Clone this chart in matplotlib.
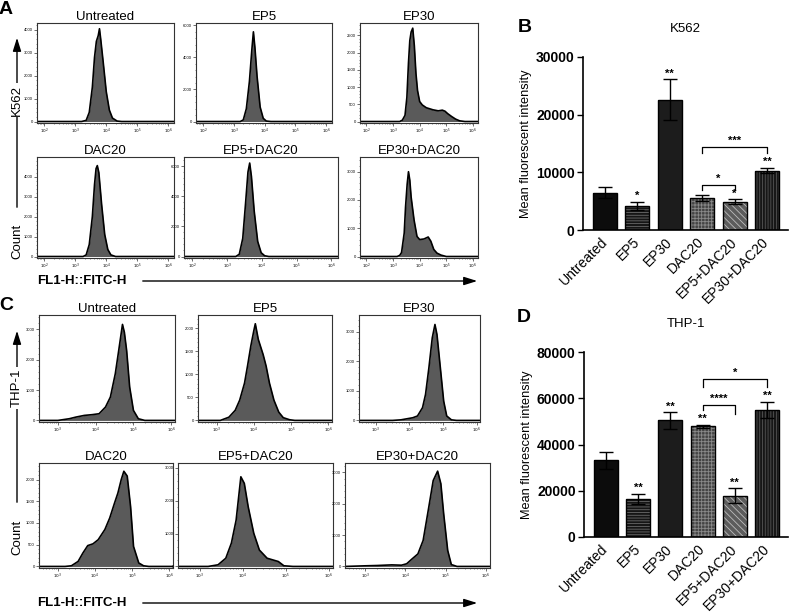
import numpy as np
import matplotlib.pyplot as plt
from matplotlib.ticker import MultipleLocator, FixedLocator

plt.rcParams['font.family'] = ['Liberation Sans', 'DejaVu Sans']
plt.rcParams['hatch.linewidth'] = 0.6

W, H = 790, 612
groups = ["Untreated", "EP5", "EP30", "DAC20", "EP5+DAC20", "EP30+DAC20"]

# flow histograms, x = log10(FITC), n = count
k562_untr_x = [1.76, 3.2, 3.35, 3.45, 3.55, 3.62, 3.68, 3.74, 3.78, 3.82, 3.9, 4.0, 4.1, 4.2, 4.35, 4.5, 6.19]
k562_untr_n = [0, 0, 50, 400, 1500, 2800, 3500, 3750, 4050, 3600, 2600, 1300, 500, 150, 20, 0, 0]
k562_ep5_x = [1.76, 3.2, 3.3, 3.4, 3.5, 3.58, 3.63, 3.68, 3.75, 3.85, 3.95, 4.05, 4.2, 6.19]
k562_ep5_n = [0, 0, 100, 800, 2500, 4500, 5600, 4600, 2800, 900, 200, 30, 0, 0]
k562_ep30_x = [1.76, 3.25, 3.35, 3.45, 3.52, 3.58, 3.63, 3.68, 3.74, 3.8, 3.86, 3.92, 4.0, 4.1, 4.25,
               4.5, 4.7, 4.85, 4.95, 5.05, 5.2, 5.35, 5.5, 5.7, 6.19]
k562_ep30_n = [0, 0, 40, 180, 700, 1700, 2350, 2600, 2710, 2200, 1400, 900, 580, 480, 400,
               340, 310, 330, 300, 230, 145, 70, 20, 0, 0]
k562_dac_x = [1.76, 3.25, 3.35, 3.45, 3.55, 3.62, 3.67, 3.71, 3.76, 3.85, 3.95, 4.05, 4.15, 4.3, 6.19]
k562_dac_n = [0, 0, 80, 600, 2000, 3600, 4400, 4550, 4200, 2600, 1100, 350, 80, 0, 0]
k562_ep5dac_x = [1.76, 3.25, 3.35, 3.45, 3.53, 3.6, 3.65, 3.7, 3.78, 3.88, 3.98, 4.08, 4.2, 6.19]
k562_ep5dac_n = [0, 0, 150, 1200, 3500, 5600, 6200, 5300, 3000, 1000, 250, 50, 0, 0]
k562_ep30dac_x = [1.76, 3.15, 3.25, 3.32, 3.42, 3.47, 3.53, 3.58, 3.63, 3.68, 3.79, 3.9, 4.0, 4.16,
                  4.32, 4.42, 4.53, 4.65, 4.8, 5.0, 6.19]
k562_ep30dac_n = [0, 0, 40, 140, 830, 1750, 2550, 3000, 2700, 2100, 1290, 710, 600, 620,
                  690, 540, 250, 120, 50, 0, 0]

thp1_untr_x = [2.5, 3.0, 3.3, 3.48, 3.7, 3.91, 4.09, 4.26, 4.39, 4.52, 4.61, 4.71, 4.76, 4.82, 4.9, 5.0, 5.13, 5.3, 6.1]
thp1_untr_n = [0, 0, 55, 110, 165, 190, 220, 440, 770, 1540, 2300, 3160, 2900, 2300, 1100, 330, 55, 0, 0]
thp1_ep5_x = [2.5, 3.1, 3.33, 3.5, 3.62, 3.75, 3.83, 3.92, 4.0, 4.04, 4.12, 4.25, 4.33, 4.42, 4.54,
              4.67, 4.79, 4.96, 5.1, 6.1]
thp1_ep5_n = [0, 0, 70, 220, 440, 810, 1180, 1620, 1950, 2100, 1760, 1430, 1180, 810, 440,
              180, 60, 15, 0, 0]
thp1_ep30_x = [2.5, 3.5, 3.75, 4.1, 4.24, 4.39, 4.48, 4.58, 4.68, 4.76, 4.82, 4.92, 5.02, 5.11, 5.25, 5.4, 6.1]
thp1_ep30_n = [0, 0, 20, 90, 150, 430, 880, 1780, 2790, 3240, 2900, 1780, 650, 150, 20, 0, 0]
thp1_dac_x = [2.5, 3.2, 3.37, 3.55, 3.68, 3.81, 3.95, 4.09, 4.27, 4.4, 4.53, 4.62, 4.71, 4.78, 4.87,
              4.96, 5.04, 5.18, 5.31, 5.45, 6.1]
thp1_dac_n = [0, 0, 15, 115, 310, 480, 520, 615, 850, 1115, 1460, 1690, 2000, 2190, 2080,
              1380, 460, 80, 15, 0, 0]
thp1_ep5dac_x = [2.5, 3.2, 3.43, 3.61, 3.74, 3.85, 3.96, 4.04, 4.13, 4.26, 4.39, 4.57, 4.83, 4.96, 5.17, 6.1]
thp1_ep5dac_n = [0, 0, 50, 250, 710, 1410, 2730, 2530, 1820, 1010, 500, 250, 150, 20, 0, 0]
thp1_ep30dac_x = [2.5, 3.0, 3.3, 3.66, 3.9, 4.03, 4.17, 4.31, 4.44, 4.58, 4.69, 4.8, 4.88, 4.95,
                  5.05, 5.14, 5.28, 6.1]
thp1_ep30dac_n = [0, 20, 30, 50, 40, 85, 245, 400, 830, 1890, 2740, 3040, 2640, 1680,
                  510, 60, 0, 0]

# mean fluorescent intensity bars
k562_mfi = [6500, 4200, 22600, 5500, 4900, 10300]
k562_err = [900, 700, 3500, 500, 400, 500]
k562_stars = ["", "*", "**", "", "*", "**"]
k562_brackets = [(3, 4, 7800, 6900, 6900, "*"), (3, 5, 14400, 13300, 13300, "***")]
thp1_mfi = [33100, 16400, 50400, 47800, 17900, 55000]
thp1_err = [3600, 2200, 3500, 500, 3100, 3500]
thp1_stars = ["", "**", "**", "**", "**", "**"]
thp1_brackets = [(3, 4, 57200, 55000, 53300, "****"), (3, 5, 68400, 65000, 65000, "*")]

fig = plt.figure(figsize=(W / 100, H / 100), dpi=100)


def px_axes(x0, y0, x1, y1):
    return fig.add_axes([x0 / W, 1 - y1 / H, (x1 - x0) / W, (y1 - y0) / H])


def hist_panel(rect, title, x, n, ymax, ystep, xlo, xhi, xt):
    ax = px_axes(*rect)
    ax.fill_between(x, n, color="#5a5a5a", lw=0)
    ax.plot(x, n, color="black", lw=1.2)
    ax.set_xlim(xlo, xhi)
    ax.set_ylim(-0.015 * ymax, ymax)
    ax.xaxis.set_major_locator(FixedLocator(xt))
    ax.set_xticklabels(["$10^{%d}$" % t for t in xt])
    minors = [np.log10(k) + d for d in range(1, 7) for k in range(2, 10)]
    ax.xaxis.set_minor_locator(FixedLocator([m for m in minors if xlo < m < xhi]))
    ax.yaxis.set_major_locator(MultipleLocator(ystep))
    ax.yaxis.set_minor_locator(MultipleLocator(ystep / 5))
    ax.tick_params(which="major", length=2, width=0.5, labelsize=3, pad=1, color="#333")
    ax.tick_params(which="minor", length=1, width=0.4, color="#333")
    for s in ax.spines.values():
        s.set_linewidth(0.8)
        s.set_color("#333")
    ax.set_title(title, fontsize=9.5, pad=2)


# panel A (K562)
ra = [(23, 123), (157, 258)]
ca = [[(37, 174), (196, 332), (360, 478)], [(37, 174), (184, 338), (360, 478)]]
a_data = [[(k562_untr_x, k562_untr_n, 4300, 1000), (k562_ep5_x, k562_ep5_n, 6150, 2000),
           (k562_ep30_x, k562_ep30_n, 2860, 500)],
          [(k562_dac_x, k562_dac_n, 4980, 1000), (k562_ep5dac_x, k562_ep5dac_n, 6600, 2000),
           (k562_ep30dac_x, k562_ep30dac_n, 3520, 1000)]]
for r in range(2):
    for c in range(3):
        x, n, ym, st = a_data[r][c]
        (x0, x1), (y0, y1) = ca[r][c], ra[r]
        hist_panel((x0, y0, x1, y1), groups[r * 3 + c], x, n, ym, st, 1.76, 6.19, [2, 3, 4, 5, 6])

# panel C (THP-1)
rc = [(315, 422), (463, 568)]
cc = [[(39, 175), (198, 332), (359, 480)], [(39, 173), (178, 333), (345, 490)]]
c_data = [[(thp1_untr_x, thp1_untr_n, 3470, 1000), (thp1_ep5_x, thp1_ep5_n, 2290, 500),
           (thp1_ep30_x, thp1_ep30_n, 3560, 1000)],
          [(thp1_dac_x, thp1_dac_n, 2380, 500), (thp1_ep5dac_x, thp1_ep5dac_n, 3150, 1000),
           (thp1_ep30dac_x, thp1_ep30dac_n, 3300, 1000)]]
for r in range(2):
    for c in range(3):
        x, n, ym, st = c_data[r][c]
        (x0, x1), (y0, y1) = cc[r][c], rc[r]
        hist_panel((x0, y0, x1, y1), groups[r * 3 + c], x, n, ym, st, 2.5, 6.1, [3, 4, 5, 6])

# bar panels
faces = ["#0c0c0c", "#151515", "#1c1c1c", "#444444", "#5c5c5c", "#161616"]
hatch_cols = [None, "#6a6a6a", None, "#8a8a8a", "#bbbbbb", "#555555"]
hatches = [None, "------", None, "+++++", "\\\\\\\\\\", "||||||"]


def bar_panel(rect, title, vals, errs, stars, brackets, ymax, step, off):
    ax = px_axes(*rect)
    pos = np.arange(len(groups))
    for i in pos:
        ax.bar(i, vals[i], 0.74, color=faces[i], hatch=hatches[i],
               edgecolor=hatch_cols[i] or faces[i], lw=0, zorder=2)
        ax.bar(i, vals[i], 0.74, fill=False, edgecolor="black", lw=1, zorder=3)
    ax.errorbar(pos, vals, yerr=errs, fmt="none", ecolor="black", elinewidth=1,
                capsize=5, capthick=1, zorder=4)
    for i in pos:
        if stars[i]:
            ax.text(i, vals[i] + errs[i] + off, stars[i], ha="center", va="center",
                    fontsize=8, fontweight="bold")
    for a, b, yb, ya, yc, lab in brackets:
        ax.plot([a, a, b, b], [ya, yb, yb, yc], color="black", lw=0.9)
        ax.text((a + b) / 2, yb + off, lab, ha="center", va="center", fontsize=8, fontweight="bold")
    ax.set_xlim(-0.68, 5.65)
    ax.set_ylim(0, ymax)
    ax.yaxis.set_major_locator(MultipleLocator(step))
    ax.set_xticks(pos)
    ax.set_xticklabels(groups, rotation=45, ha="right", va="center",
                       rotation_mode="anchor", fontsize=10)
    ax.tick_params(axis="y", labelsize=10, length=4, width=1, pad=2)
    ax.tick_params(axis="x", length=0, pad=7)
    for s in ["top", "right"]:
        ax.spines[s].set_visible(False)
    for s in ["left", "bottom"]:
        ax.spines[s].set_linewidth(1.2)
    ax.set_ylabel("Mean fluorescent intensity", fontsize=9.2, labelpad=3)
    ax.set_title(title, fontsize=9.5, pad=18)
    for lb in ax.get_yticklabels():
        lb.set_fontweight("bold")


bar_panel((583, 57, 788, 230), "K562", k562_mfi, k562_err, k562_stars, k562_brackets, 30000, 10000, 1000)
bar_panel((584, 352, 788, 537), "THP-1", thp1_mfi, thp1_err, thp1_stars, thp1_brackets, 80000, 20000, 2600)

# overlay for arrows and panel letters
ov = fig.add_axes([0, 0, 1, 1], zorder=-1)
ov.set_xlim(0, W)
ov.set_ylim(H, 0)
ov.axis("off")
arw = dict(arrowstyle="-|>,head_length=0.8,head_width=0.25", color="black", lw=1)
for ytop, ybot, ylab, lab, ycnt, yx in [(35, 210, 100, "K562", 241, 281), (328, 505, 388, "THP-1", 537, 603)]:
    ov.annotate("", xy=(17, ytop), xytext=(17, ybot), arrowprops=arw)
    ov.text(17, ylab, lab, rotation=90, ha="center", va="center", fontsize=9.5,
            bbox=dict(facecolor="white", edgecolor="none", pad=1))
    ov.text(17, ycnt, "Count", rotation=90, ha="center", va="center", fontsize=9.5)
    ov.text(37, yx, "FL1-H::FITC-H", ha="left", va="center", fontsize=9.5, fontweight="bold")
    ov.annotate("", xy=(480, yx), xytext=(140, yx), arrowprops=arw)

for lab, x, y in [("A", 6, 10), ("B", 525, 27), ("C", 6, 305), ("D", 524, 318)]:
    ov.text(x, y, lab, ha="center", va="center", fontsize=14, fontweight="bold")

fig.savefig("out.png", dpi=100)
